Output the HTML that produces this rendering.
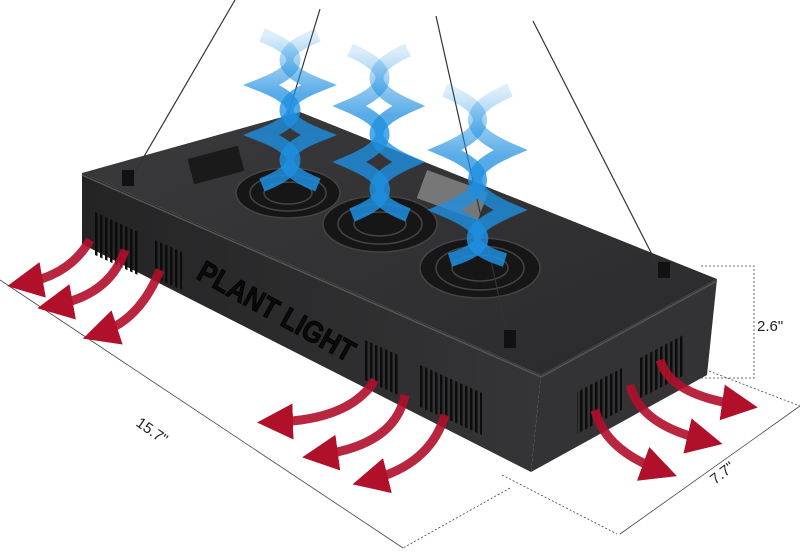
<!DOCTYPE html><html><head><style>html,body{margin:0;padding:0;background:#fff;width:800px;height:554px;overflow:hidden}</style></head><body>
<svg width="800" height="554" viewBox="0 0 800 554" xmlns="http://www.w3.org/2000/svg">
<defs>
<linearGradient id="top" x1="0" y1="0" x2="1" y2="1"><stop offset="0" stop-color="#3a3a3c"/><stop offset="1" stop-color="#2a2a2c"/></linearGradient>
<linearGradient id="front" x1="0" y1="0" x2="1" y2="0"><stop offset="0" stop-color="#242425"/><stop offset="1" stop-color="#353537"/></linearGradient>
<linearGradient id="fade" x1="0" y1="0" x2="0" y2="1"><stop offset="0" stop-color="#1e8fe0" stop-opacity="0.15"/><stop offset="0.4" stop-color="#1e8fe0" stop-opacity="0.75"/><stop offset="1" stop-color="#1e8fe0" stop-opacity="0.85"/></linearGradient>
<pattern id="vent" width="5" height="8" patternUnits="userSpaceOnUse"><rect width="2.5" height="8" fill="#0c0c0c"/></pattern>
<marker id="ah" markerWidth="4" markerHeight="4" refX="2" refY="2" orient="auto"><path d="M0,0 L4,2 L0,4 Z" fill="#b0102a"/></marker>
</defs>
<g stroke="#444" stroke-width="0.8" fill="none">
<line x1="0" y1="280" x2="403" y2="548"/>
<line x1="620" y1="534" x2="800" y2="406"/>
<g stroke-dasharray="2,2"><line x1="502" y1="475" x2="617" y2="534"/><line x1="510" y1="488" x2="403" y2="548"/><line x1="709" y1="371" x2="800" y2="406"/>
<polyline points="701,266 754,266 754,378 701,378"/></g>
</g>
<text x="757" y="331" font-family="Liberation Sans,sans-serif" font-size="15" fill="#222">2.6"</text>
<text transform="translate(135,425) rotate(35)" font-family="Liberation Sans,sans-serif" font-size="15" fill="#222">15.7"</text>
<text transform="translate(715,485) rotate(-38)" font-family="Liberation Sans,sans-serif" font-size="15" fill="#222">7.7"</text>
<polygon points="82,173 300,112 717,279 541,375" fill="url(#top)"/>
<polygon points="82,173 541,375 531,472 82,244" fill="url(#front)"/>
<polygon points="541,375 717,279 707,375 531,472" fill="#333335"/>
<polyline points="82,175 541,377 717,281" stroke="#555" stroke-width="1.5" fill="none"/>
<g fill="url(#vent)">
<polygon points="95,212 138,232 138,275 95,255"/>
<polygon points="155,240 182,252 182,290 155,278"/>
<polygon points="365,340 398,355 398,395 365,380"/>
<polygon points="420,365 482,393 482,435 420,407"/>
<polygon points="577,392 622,368 622,410 577,434"/>
<polygon points="640,358 685,334 685,375 640,398"/>
</g>
<g fill="#161616" stroke="#444" stroke-width="1.5">
<ellipse cx="288" cy="193" rx="52" ry="25"/><ellipse cx="288" cy="193" rx="38" ry="18"/><ellipse cx="288" cy="193" rx="24" ry="11"/>
<ellipse cx="380" cy="224" rx="57" ry="28"/><ellipse cx="380" cy="224" rx="42" ry="20"/><ellipse cx="380" cy="224" rx="26" ry="12"/>
<ellipse cx="480" cy="268" rx="60" ry="30"/><ellipse cx="480" cy="268" rx="44" ry="22"/><ellipse cx="480" cy="268" rx="28" ry="13"/>
</g>
<rect x="190" y="152" width="52" height="26" fill="#1a1a1a" transform="rotate(-15 216 165)"/>
<rect x="420" y="180" width="65" height="30" fill="#777" transform="rotate(20 452 195)"/>
<text transform="translate(195,278) rotate(29)" font-family="Liberation Sans,sans-serif" font-weight="bold" font-size="30" fill="#0a0a0a" stroke="#000" stroke-width="0.8" textLength="175" lengthAdjust="spacingAndGlyphs">PLANT LIGHT</text>
<g stroke="#333" stroke-width="1.2"><line x1="235" y1="0" x2="128" y2="184"/><line x1="320" y1="9" x2="283" y2="131"/><line x1="436" y1="16" x2="510" y2="346"/><line x1="533" y1="21" x2="663" y2="276"/></g>
<g fill="#111"><rect x="122" y="170" width="12" height="16"/><rect x="504" y="330" width="12" height="18"/><rect x="658" y="262" width="12" height="16"/></g>
<g fill="none" stroke="url(#fade)" stroke-width="14">
<path d="M262,35 Q325,60 262,85 Q325,110 262,135 Q325,160 262,185"/>
<path d="M318,35 Q255,60 318,85 Q255,110 318,135 Q255,160 318,185"/>
<path d="M350,50 Q415,78 350,106 Q415,134 350,162 Q415,190 352,215"/>
<path d="M408,50 Q345,78 408,106 Q345,134 408,162 Q345,190 408,215"/>
<path d="M445,90 Q515,120 445,150 Q515,180 445,210 Q515,240 450,260"/>
<path d="M510,90 Q440,120 510,150 Q440,180 510,210 Q440,240 505,260"/>
</g>
<g fill="none" stroke="#b0102a" stroke-width="9" stroke-opacity="0.9" marker-end="url(#ah)">
<path d="M90,240 Q70,275 25,283"/><path d="M125,250 Q110,295 55,305"/><path d="M160,270 Q140,320 100,333"/>
<path d="M375,380 Q350,420 275,422"/><path d="M405,395 Q395,445 320,455"/><path d="M445,415 Q430,465 370,480"/>
<path d="M595,410 Q605,450 660,470"/><path d="M630,385 Q640,425 705,440"/><path d="M660,360 Q670,395 740,405"/>
</g>
</svg>
</body></html>
